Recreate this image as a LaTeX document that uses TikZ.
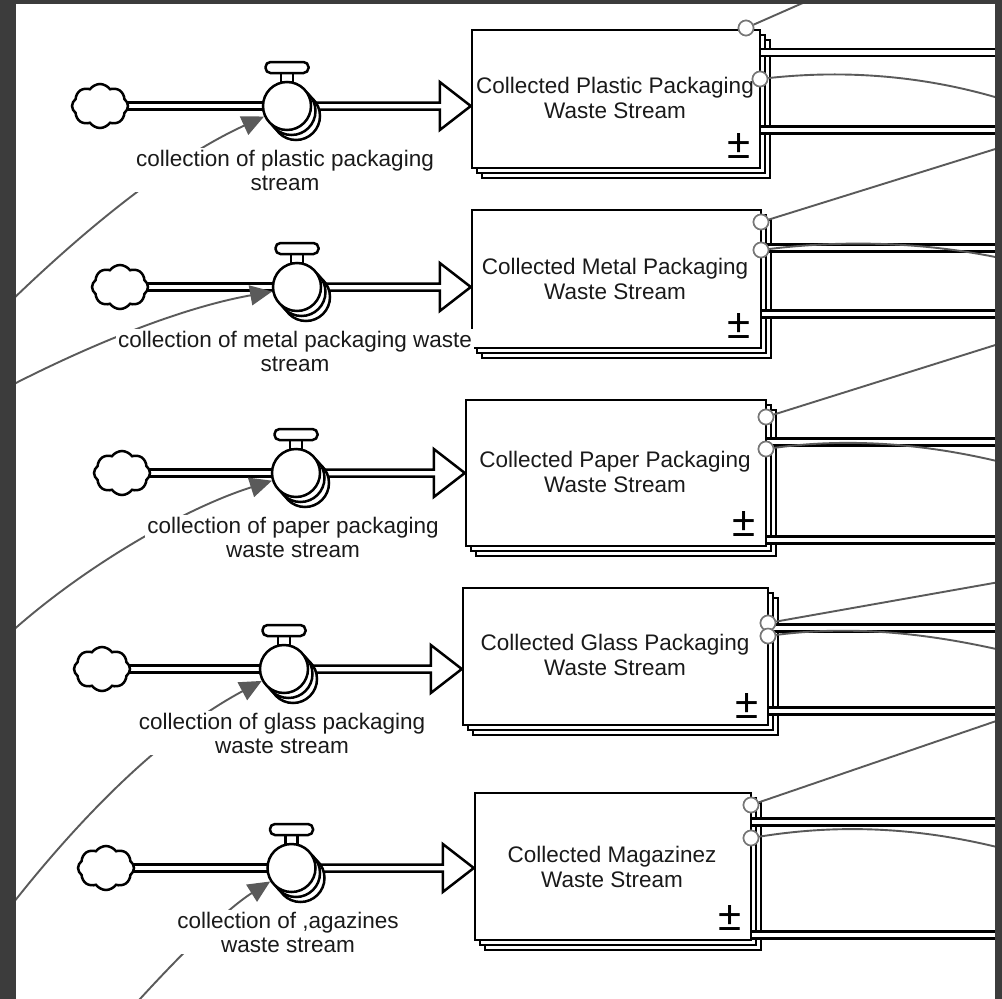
\documentclass[tikz,border=0pt]{standalone}
\usepackage{fontspec}
\setmainfont{Liberation Sans}
\usetikzlibrary{shapes.symbols,arrows.meta,calc}
\definecolor{framegray}{HTML}{3C3C3C}
\definecolor{linkgray}{HTML}{5A5A5A}
\definecolor{portgray}{HTML}{777777}
\definecolor{ink}{HTML}{1A1A1A}

% valve symbol: #1 name, #2 x, #3 y
\newcommand{\valvesym}[3]{%
  \draw[valveline] (#2+9,#3+10) circle[radius=24pt];
  \draw[valveline] (#2+4.5,#3+5) circle[radius=24pt];
  \draw[valveline] (#2-6,#3-33) rectangle (#2+6,#3-21);
  \draw[valveline, rounded corners=5pt] (#2-21.5,#3-44) rectangle (#2+21.5,#3-33);
  \node[valve] (#1) at (#2,#3) {};
}
% stock with two copies behind: #1 name, #2 cx, #3 cy, #4 w, #5 h
\newcommand{\stockbox}[5]{%
  \draw[stockline] (#2-#4/2+10,#3-#5/2+10) rectangle (#2+#4/2+10,#3+#5/2+10);
  \draw[stockline] (#2-#4/2+5,#3-#5/2+5) rectangle (#2+#4/2+5,#3+#5/2+5);
  \node[stock, minimum width=#4pt, minimum height=#5pt] (#1) at (#2,#3) {};
}
% flow arrow from valve #1 to stock #2
\newcommand{\flowarrow}[2]{%
  \draw[valveline, line join=miter]
    ($(#1)+(0,-3.5)$) -- ($(#2.west |- #1)+(-31,-3.5)$) -- ($(#2.west |- #1)+(-31,-24)$)
    -- (#2.west |- #1) -- ($(#2.west |- #1)+(-31,24)$) -- ($(#2.west |- #1)+(-31,3.5)$)
    -- ($(#1)+(0,3.5)$) -- cycle;
}

\begin{document}
\begin{tikzpicture}[x=1pt,y=-1pt,
  valveline/.style={draw=black, line width=2.5pt, fill=white},
  valve/.style={circle, draw=black, line width=2.5pt, fill=white, minimum size=48pt, inner sep=0pt},
  stockline/.style={draw=black, line width=2.4pt, fill=white},
  stock/.style={rectangle, draw=black, line width=2.4pt, fill=white, inner sep=0pt},
  src/.style={cloud, cloud puffs=8, cloud puff arc=110, aspect=1.3, draw=black, line width=2.5pt,
              fill=white, minimum width=56pt, minimum height=44pt, inner sep=0pt},
  pipe/.style={draw=black, line width=2.5pt, double=white, double distance=4.5pt},
  stocktext/.style={text=ink, align=center, inner sep=0pt, font=\fontsize{22.5}{24.5}\selectfont},
  pmsign/.style={text=black, inner sep=0pt, font=\fontsize{42}{42}\selectfont},
  flowlabel/.style={text=ink, align=center, fill=white, inner sep=2pt, font=\fontsize{22.5}{24}\selectfont},
  link/.style={draw=linkgray, line width=1.9pt},
  inlink/.style={link, -{Triangle[length=22pt,width=20pt]}, color=linkgray},
  port/.style={circle, draw=portgray, line width=1.6pt, fill=white, minimum size=15pt, inner sep=0pt}
]
\useasboundingbox (0,0) rectangle (1002,999);
\fill[white] (0,0) rectangle (1002,999);

% ---------- stocks ----------
\stockbox{b1}{616}{99}{288}{138}
\stockbox{b2}{616.5}{279}{289}{138}
\stockbox{b3}{616}{473}{300}{146}
\stockbox{b4}{615.5}{656.5}{305}{137}
\stockbox{b5}{613}{866.5}{276}{147}

\node[stocktext] (t1) at (615,98) {Collected Plastic Packaging\\Waste Stream};
\node[stocktext] (t2) at (615,279) {Collected Metal Packaging\\Waste Stream};
\node[stocktext] (t3) at (615,472) {Collected Paper Packaging\\Waste Stream};
\node[stocktext] (t4) at (615,655) {Collected Glass Packaging\\Waste Stream};
\node[stocktext] (t5) at (612,867) {Collected Magazinez\\Waste Stream};

\node[pmsign] (pm1) at (739,146) {±};
\node[pmsign] (pm2) at (739,326) {±};
\node[pmsign] (pm3) at (744,524) {±};
\node[pmsign] (pm4) at (747,706) {±};
\node[pmsign] (pm5) at (730,918) {±};

% ---------- sources and valves ----------
\coordinate (v1c) at (287,106);
\coordinate (v2c) at (297,287);
\coordinate (v3c) at (296,473);
\coordinate (v4c) at (284,669);
\coordinate (v5c) at (291.5,868);

\flowarrow{v1c}{b1}
\flowarrow{v2c}{b2}
\flowarrow{v3c}{b3}
\flowarrow{v4c}{b4}
\flowarrow{v5c}{b5}

\draw[pipe] (99,106) -- (v1c);
\draw[pipe] (120,287) -- (v2c);
\draw[pipe] (122,473) -- (v3c);
\draw[pipe] (102,669) -- (v4c);
\draw[pipe] (106,868) -- (v5c);

\node[src] (c1) at (100,106) {};
\node[src] (c2) at (120,287) {};
\node[src] (c3) at (122,473) {};
\node[src] (c4) at (102,669) {};
\node[src] (c5) at (106,868) {};

\valvesym{v1}{287}{106}
\valvesym{v2}{297}{287}
\valvesym{v3}{296}{473}
\valvesym{v4}{284}{669}
\valvesym{v5}{291.5}{868}

% ---------- outflow pipes on the right ----------
\coordinate (o1a) at (1010,52.5); \coordinate (o1b) at (1010,130);
\coordinate (o2a) at (1010,248);  \coordinate (o2b) at (1010,314);
\coordinate (o3a) at (1010,442);  \coordinate (o3b) at (1010,540);
\coordinate (o4a) at (1010,628);  \coordinate (o4b) at (1010,711);
\coordinate (o5a) at (1010,822);  \coordinate (o5b) at (1010,935);
\foreach \b/\o in {b1/o1a,b1/o1b,b2/o2a,b2/o2b,b3/o3a,b3/o3b,b4/o4a,b4/o4b,b5/o5a,b5/o5b}
  \draw[pipe] (\b.east |- \o) -- (\o);

% ---------- ports and outgoing links ----------
\node[port] (p1a) at (746,28) {};   \node[port] (p1b) at (760,79) {};
\node[port] (p2a) at (761,222) {};  \node[port] (p2b) at (761,250) {};
\node[port] (p3a) at (766,417) {};  \node[port] (p3b) at (766,449) {};
\node[port] (p4a) at (768,623) {};  \node[port] (p4b) at (768,636) {};
\node[port] (p5a) at (751,805) {};  \node[port] (p5b) at (751,838) {};

\coordinate (q1a) at (830,-9);    \coordinate (q1b) at (1005,100);
\coordinate (q2a) at (1005,146);  \coordinate (q2b) at (1005,259);
\coordinate (q3a) at (1005,342);  \coordinate (q3b) at (1005,463);
\coordinate (q4a) at (1005,581);  \coordinate (q4b) at (1005,651);
\coordinate (q5a) at (1005,718);  \coordinate (q5b) at (1005,849);

\draw[link] (p1a) -- (q1a);
\draw[link] (p1b) .. controls (860,68) and (940,80) .. (q1b);
\draw[link] (p2a) -- (q2a);
\draw[link] (p2b) .. controls (860,238) and (940,245) .. (q2b);
\draw[link] (p3a) -- (q3a);
\draw[link] (p3b) .. controls (860,436) and (940,447) .. (q3b);
\draw[link] (p4a) -- (q4a);
\draw[link] (p4b) .. controls (860,624) and (940,636) .. (q4b);
\draw[link] (p5a) -- (q5a);
\draw[link] (p5b) .. controls (850,822) and (930,830) .. (q5b);

% redraw ports on top of links
\foreach \p/\x/\y in {p1a/746/28,p1b/760/79,p2a/761/222,p2b/761/250,p3a/766/417,p3b/766/449,p4a/768/623,p4b/768/636,p5a/751/805,p5b/751/838}
  \node[port] at (\x,\y) {};

% ---------- incoming links to valves ----------
\coordinate (s1) at (10,302);
\coordinate (s2) at (10,386);
\coordinate (s3) at (10,633);
\coordinate (s4) at (10,907);
\coordinate (s5) at (130,1010);
\draw[inlink] (s1) .. controls (100,215) and (180,155) .. (v1);
\draw[inlink] (s2) .. controls (90,345) and (180,308) .. (v2);
\draw[inlink] (s3) .. controls (80,570) and (180,510) .. (v3);
\draw[inlink] (s4) .. controls (90,805) and (170,730) .. (v4);
\draw[inlink] (s5) .. controls (175,960) and (225,910) .. (v5);

% ---------- flow labels ----------
\node[flowlabel] (l1) at (285,170) {collection of plastic packaging\\stream};
\node[flowlabel] (l2) at (295,351) {collection of metal packaging waste\\stream};
\node[flowlabel] (l3) at (293,537) {collection of paper packaging\\waste stream};
\node[flowlabel] (l4) at (282,733) {collection of glass packaging\\waste stream};
\node[flowlabel] (l5) at (288,932) {collection of ,agazines\\waste stream};

% ---------- window frame ----------
\fill[framegray] (0,0) rectangle (16,999);
\fill[framegray] (0,0) rectangle (1002,4);
\fill[framegray] (995,0) rectangle (1002,999);
\end{tikzpicture}
\end{document}
